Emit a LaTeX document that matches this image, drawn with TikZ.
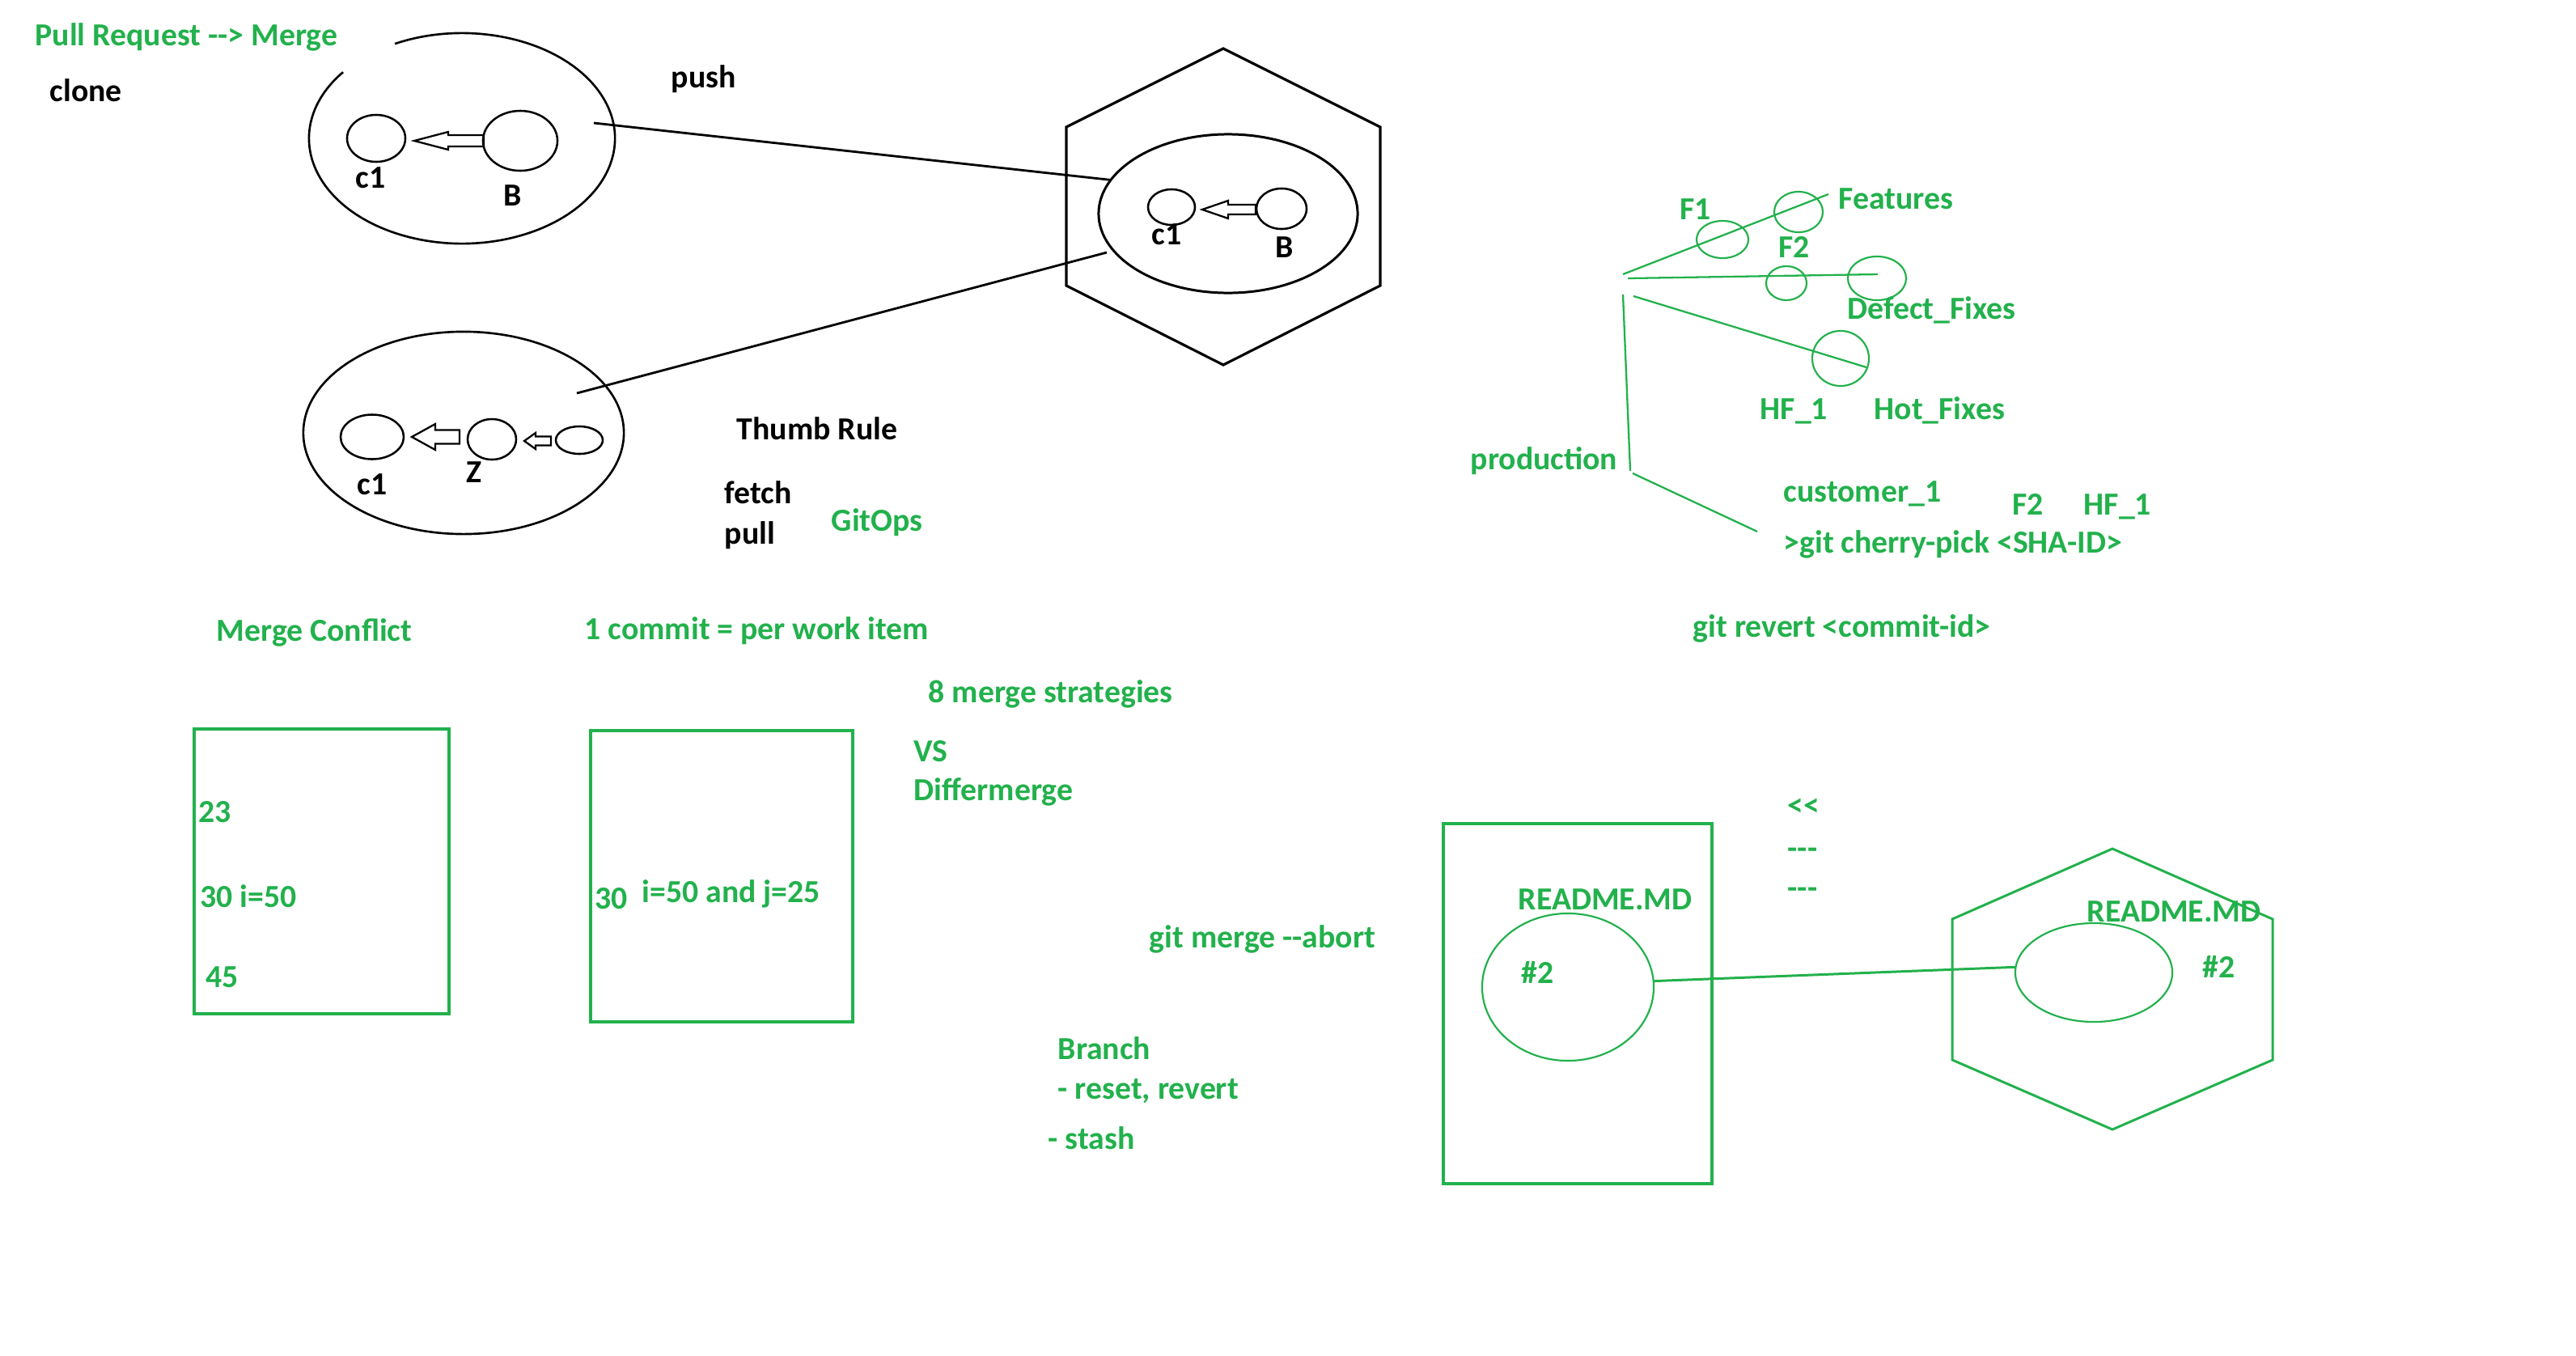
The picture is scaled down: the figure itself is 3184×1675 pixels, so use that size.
\documentclass[tikz,border=0pt]{standalone}
\usepackage{fontspec}
\setmainfont{Carlito}
\usetikzlibrary{shapes.geometric}
\definecolor{pgreen}{HTML}{22B14C}

% hollow block arrow pointing left: style, tip x, tip y, head base x, head half-height, shaft half-height, shaft end x
\newcommand\hollowarrow[7]{%
  \draw[#1] (#2,#3) -- (#4,{#3-#5}) -- (#4,{#3-#6}) -- (#7,{#3-#6})
     -- (#7,{#3+#6}) -- (#4,{#3+#6}) -- (#4,{#3+#5}) -- cycle;}

\begin{document}
\begin{tikzpicture}[x=0.01cm,y=-0.01cm,
  lbl/.style={inner sep=0pt, anchor=base west, font=\fontsize{11.3pt}{13pt}\selectfont\bfseries},
  blk/.style={lbl, text=black},
  grn/.style={lbl, text=pgreen},
  bell/.style={draw=black, ellipse, line width=0.72pt, inner sep=0pt, outer sep=0pt},
  gell/.style={draw=pgreen, ellipse, line width=0.62pt, inner sep=0pt, outer sep=0pt},
  bline/.style={draw=black, line width=0.8pt},
  gline/.style={draw=pgreen, line width=0.65pt},
  gbox/.style={draw=pgreen, line width=1.1pt, rectangle, inner sep=0pt},
  harrow/.style={draw=black, line width=0.65pt, line join=miter},
]
\useasboundingbox[fill=white] (0,0) rectangle (3184,1675);

% ---------- local repository (top) ----------
\coordinate (repoA) at (571,171);
\draw[black, line width=0.75pt] (repoA) ++(116:1.89cm and 1.30cm)
  arc[start angle=116, end angle=-219, x radius=1.89cm, y radius=1.30cm];
\node[bell, minimum width=0.72cm, minimum height=0.58cm] (c1a) at (465,171) {};
\node[bell, minimum width=0.92cm, minimum height=0.74cm] (ba) at (643,174) {};
\hollowarrow{harrow}{512}{174}{554}{11}{7}{598}
\node[blk] (c1alab) at (439,232) {c1};
\node[blk] (balab) at (622,254) {B};

% ---------- local repository (bottom) ----------
\node[bell, line width=0.75pt, minimum width=3.96cm, minimum height=2.50cm] (repoB) at (573,535) {};
\node[bell, minimum width=0.78cm, minimum height=0.55cm] (c1b) at (460,540) {};
\node[bell, minimum width=0.60cm, minimum height=0.50cm] (zb) at (608,543) {};
\node[bell, minimum width=0.58cm, minimum height=0.34cm] (nb) at (716,544) {};
\hollowarrow{harrow}{509}{540}{538}{16}{8.5}{568}
\hollowarrow{harrow}{648}{545}{662}{10}{5.5}{681}
\node[blk] (c1blab) at (441,611) {c1};
\node[blk] (zblab) at (576,596) {Z};

% ---------- remote repository ----------
\coordinate (hexc) at (1512,255);
\draw[black, line width=0.9pt, line join=miter]
  (1512,60) -- (1706,157) -- (1706,353) -- (1512,451) -- (1318,353) -- (1318,157) -- cycle;
\node[bell, line width=0.85pt, minimum width=3.20cm, minimum height=1.96cm] (remote) at (1518,264) {};
\node[bell, minimum width=0.58cm, minimum height=0.44cm] (c1r) at (1448,256) {};
\node[bell, minimum width=0.62cm, minimum height=0.50cm] (br) at (1584,258) {};
\hollowarrow{harrow}{1486}{259}{1518}{11}{6}{1552}
\node[blk] (c1rlab) at (1423,302) {c1};
\node[blk] (brlab) at (1576,318) {B};

% push / pull links
\coordinate (pushfrom) at (734,152);
\coordinate (pullfrom) at (713,486);
\coordinate (pullto) at (1368,312);
\draw[bline] (pushfrom) -- (remote.164);
\draw[bline] (pullfrom) -- (pullto);

% ---------- black labels ----------
\node[blk] (clone) at (61,125) {clone};
\node[blk] (push) at (829,108) {push};
\node[blk] (thumb) at (910,543) {Thumb Rule};
\node[blk] (fetch) at (895,622) {fetch};
\node[blk] (pull) at (895,672) {pull};

% ---------- green labels ----------
\node[grn] (pr) at (43,56) {Pull Request -\kern0pt-> Merge};
\node[grn] (gitops) at (1027,656) {GitOps};
\node[grn] (mc) at (267,792) {Merge Conflict};
\node[grn] (onecommit) at (722,790) {1 commit = per work item};
\node[grn] (eight) at (1147,868) {8 merge strategies};
\node[grn] (vs) at (1129,941) {VS};
\node[grn] (dm) at (1129,989) {Differmerge};
\node[grn] (abort) at (1420,1171) {git merge -\kern0pt-abort};
\node[grn] (branch) at (1307,1309) {Branch};
\node[grn] (reset) at (1307,1358) {- reset, revert};
\node[grn] (stash) at (1295,1420) {- stash};

% merge conflict boxes
\node[gbox, minimum width=3.15cm, minimum height=3.52cm] (boxA) at (397.5,1077) {};
\node[gbox, minimum width=3.24cm, minimum height=3.60cm] (boxB) at (892,1083) {};
\node[grn] (l23) at (245,1016) {23};
\node[grn] (l30a) at (247,1121) {30 i=50};
\node[grn] (l45) at (254,1220) {45};
\node[grn] (l30b) at (735,1123) {30};
\node[grn] (lij) at (793,1115) {i=50 and j=25};

% ---------- branches ----------
\coordinate (trunkTop) at (2006,364);
\coordinate (trunkBot) at (2015,582);
\coordinate (featFrom) at (2006,339);
\coordinate (featTo) at (2260,240);
\coordinate (defFrom) at (2012,344);
\coordinate (defTo) at (2321,339);
\coordinate (hotFrom) at (2019,366);
\coordinate (hotTo) at (2307,454);
\coordinate (custFrom) at (2018,585);
\coordinate (custTo) at (2172,657);
\draw[gline] (trunkTop) -- (trunkBot);
\draw[gline] (featFrom) -- (featTo);
\draw[gline] (defFrom) -- (defTo);
\draw[gline] (hotFrom) -- (hotTo);
\draw[gline] (custFrom) -- (custTo);
\node[gell, minimum width=0.64cm, minimum height=0.46cm] (f1) at (2129,296) {};
\node[gell, minimum width=0.60cm, minimum height=0.50cm] (fc) at (2223,262) {};
\node[gell, minimum width=0.50cm, minimum height=0.42cm] (f2) at (2208,350) {};
\node[gell, minimum width=0.72cm, minimum height=0.54cm] (dc) at (2320,344) {};
\node[gell, minimum width=0.70cm, minimum height=0.68cm] (hc) at (2275,443) {};

\node[grn] (f1lab) at (2076,271) {F1};
\node[grn] (features) at (2272,258) {Features};
\node[grn] (f2lab) at (2198,318) {F2};
\node[grn] (defect) at (2283,394) {Defect\_Fixes};
\node[grn] (hf1lab) at (2175,518) {HF\_1};
\node[grn] (hot) at (2316,518) {Hot\_Fixes};
\node[grn] (prod) at (1817,580) {production};
\node[grn] (cust) at (2204,620) {customer\_1};
\node[grn] (f2b) at (2487,636) {F2};
\node[grn] (hf1b) at (2575,636) {HF\_1};
\node[grn] (cherry) at (2204,683) {>git cherry-pick <SHA-ID>};
\node[grn] (revert) at (2092,787) {git revert <commit-id>};

% ---------- README ----------
\node[grn] (ll) at (2209,1008) {<\kern0pt<};
\node[grn] (d1) at (2209,1061) {-\kern0pt-\kern0pt-};
\node[grn] (d2) at (2209,1110) {-\kern0pt-\kern0pt-};
\node[gbox, minimum width=3.32cm, minimum height=4.45cm] (boxC) at (1950,1240.5) {};
\node[gell, minimum width=2.12cm, minimum height=1.82cm] (rd1) at (1938,1220) {};
\node[grn] (rm1) at (1876,1124) {README.MD};
\node[grn] (h21) at (1880,1215) {\#2};
\coordinate (ghexc) at (2611,1222);
\draw[pgreen, line width=0.85pt, line join=miter]
  (2611,1049) -- (2809,1136) -- (2809,1310) -- (2611,1396) -- (2413,1310) -- (2413,1136) -- cycle;
\node[gell, minimum width=1.94cm, minimum height=1.22cm] (rd2) at (2588,1202) {};
\node[grn] (rm2) at (2579,1139) {README.MD};
\node[grn] (h22) at (2722,1208) {\#2};
\draw[pgreen, line width=0.85pt] (rd1.4) -- (rd2.176);

\end{tikzpicture}
\end{document}
